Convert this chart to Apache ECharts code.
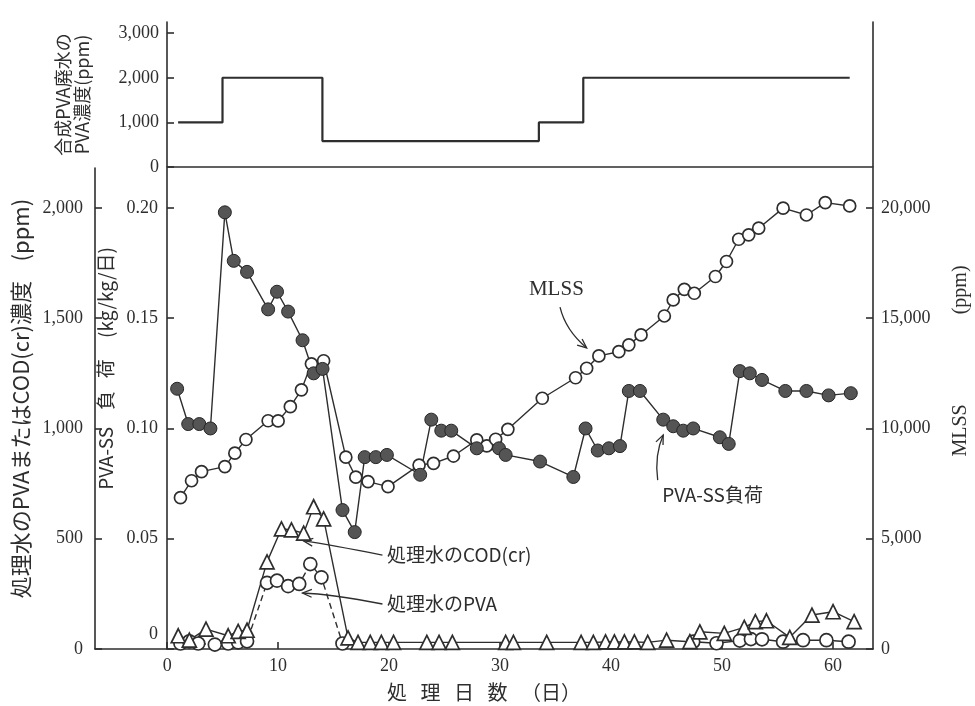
<!DOCTYPE html>
<html lang="ja">
<head>
<meta charset="UTF-8">
<title>PVA処理経過</title>
<script type="text/javascript" src="https://cdn.jsdelivr.net/npm/echarts@6.0.0/dist/echarts.min.js"></script>
<style>
  html, body { margin: 0; padding: 0; background: #fff; }
  #main { width: 975px; height: 706px; }
</style>
</head>
<body>
<div id="main"></div>
<script type="text/javascript">
// 上段: 合成PVA廃水のPVA濃度 (ppm), 階段状
var feedDays = [1, 5, 14, 33.5, 37.5, 61.5];
var feedPVA = [1000, 2000, 580, 1000, 2000, 2000];

// PVA-SS負荷 (kg/kg/日)  ●
var loadDays = [0.9, 1.9, 2.9, 3.9, 5.2, 6.0, 7.2, 9.1, 9.9, 10.9, 12.2, 13.2, 14.0, 15.8, 16.9,
  17.8, 18.8, 19.8, 22.8, 23.8, 24.7, 25.6, 27.9, 29.9, 30.5, 33.6, 36.6, 37.7, 38.8, 39.8, 40.8,
  41.6, 42.6, 44.7, 45.6, 46.5, 47.4, 49.8, 50.6, 51.6, 52.5, 53.6, 55.7, 57.6, 59.6, 61.6];
var loadVals = [0.118, 0.102, 0.102, 0.100, 0.198, 0.176, 0.171, 0.154, 0.162, 0.153, 0.140, 0.125, 0.127, 0.063, 0.053,
  0.087, 0.087, 0.088, 0.079, 0.104, 0.099, 0.099, 0.091, 0.091, 0.088, 0.085, 0.078, 0.100, 0.090, 0.091, 0.092,
  0.117, 0.117, 0.104, 0.101, 0.099, 0.100, 0.096, 0.093, 0.126, 0.125, 0.122, 0.117, 0.117, 0.115, 0.116];

// MLSS (ppm)  ○
var mlssDays = [1.2, 2.2, 3.1, 5.2, 6.1, 7.1, 9.1, 10.0, 11.1, 12.1, 13.0, 14.1, 16.1, 17.0, 18.1, 19.9,
  22.7, 24.0, 25.8, 27.9, 28.8, 29.6, 30.7, 33.8, 36.8, 37.8, 38.9, 40.7, 41.6, 42.7, 44.8, 45.6,
  46.6, 47.5, 49.4, 50.4, 51.5, 52.4, 53.3, 55.5, 57.6, 59.3, 61.5];
var mlssVals = [6860, 7630, 8040, 8270, 8880, 9500, 10350, 10340, 10990, 11750, 12930, 13070, 8700, 7790, 7590, 7360,
  8340, 8420, 8750, 9480, 9210, 9510, 9960, 11370, 12300, 12730, 13290, 13480, 13790, 14240, 15100, 15830,
  16310, 16130, 16890, 17570, 18580, 18780, 19080, 19990, 19680, 20240, 20090];

// 処理水のCOD(cr) (ppm)  △
var codDays = [1.0, 2.0, 3.5, 5.5, 6.4, 7.2, 9.0, 10.3, 11.2, 12.3, 13.2, 14.1, 16.3, 17.2, 18.3, 19.3, 20.4,
  23.4, 24.5, 25.7, 30.5, 31.2, 34.2, 37.3, 38.4, 39.5, 40.3, 41.2, 42.1, 43.3, 45.0, 47.1, 48.0,
  50.2, 52.0, 53.0, 54.0, 56.1, 58.1, 60.0, 61.9];
var codVals = [60, 40, 90, 60, 80, 85, 395, 545, 540, 525, 645, 590, 50, 30, 30, 30, 30,
  30, 30, 30, 30, 30, 30, 30, 30, 32, 32, 32, 32, 30, 40, 33, 78,
  71, 98, 124, 128, 53, 154, 169, 124];

// 処理水のPVA (ppm)  ○  前半は破線, 後半は実線
var pvaDays1 = [1.2, 2.0, 2.8, 4.3, 5.5, 6.4, 7.2, 9.0, 9.9, 10.9, 11.9, 12.9, 13.9, 15.8];
var pvaVals1 = [25, 35, 25, 20, 25, 30, 35, 300, 310, 285, 295, 385, 325, 25];
var pvaDays2 = [47.4, 49.5, 51.6, 52.6, 53.6, 55.5, 57.3, 59.4, 61.4];
var pvaVals2 = [33, 26, 38, 45, 44, 33, 40, 40, 33];

// 目盛
var xTicks = [0, 10, 20, 30, 40, 50, 60];
var feedTicks = [0, 1000, 2000, 3000];
var ppmTicks = [0, 500, 1000, 1500, 2000];
var loadTicks = [0, 0.05, 0.10, 0.15, 0.20];
var mlssTicks = [0, 5000, 10000, 15000, 20000];

var FONT = "'Liberation Serif', 'Noto Sans CJK JP', serif";
var JFONT = "'Noto Sans CJK JP', 'Liberation Serif', serif";
var INK = '#2e2e2e';

function pairs(xs, ys) {
  return xs.map(function (x, i) { return [x, ys[i]]; });
}
function comma(v) {
  return String(v).replace(/\B(?=(\d{3})+(?!\d))/g, ',');
}

var axisLineStyle = { color: INK, width: 1.6 };

var myChart = echarts.init(document.getElementById('main'));

myChart.setOption({
  animation: false,
  backgroundColor: '#fff',
  grid: [
    { left: 167, right: 102, top: 22, bottom: 539, outerBoundsMode: 'none' },
    { left: 95, right: 102, top: 168, bottom: 57, outerBoundsMode: 'none' }
  ],
  xAxis: [
    {
      gridIndex: 0, type: 'value', min: 0, max: 63.6,
      axisLine: { show: true, onZero: false, lineStyle: axisLineStyle },
      axisTick: { show: false }, axisLabel: { show: false }, splitLine: { show: false }
    },
    {
      gridIndex: 1, type: 'value', min: -6.5, max: 63.6,
      name: '処   理   日   数   （日）', nameLocation: 'middle', nameGap: 33,
      nameTextStyle: { fontFamily: JFONT, fontSize: 20, color: INK },
      axisLine: { show: true, onZero: false, lineStyle: axisLineStyle },
      axisTick: { show: true, inside: true, length: 7, customValues: xTicks, lineStyle: axisLineStyle },
      axisLabel: { customValues: xTicks, margin: 8, fontFamily: FONT, fontSize: 18, color: INK },
      splitLine: { show: false }
    }
  ],
  yAxis: [
    { // 上段 左
      gridIndex: 0, type: 'value', min: 0, max: 3250, position: 'left',
      name: '合成PVA廃水の\nPVA濃度(ppm)', nameLocation: 'middle', nameRotate: 90, nameGap: 75,
      nameTextStyle: { fontFamily: JFONT, fontSize: 18, color: INK, lineHeight: 19 },
      axisLine: { show: true, onZero: false, lineStyle: axisLineStyle },
      axisTick: { show: true, inside: true, length: 7, customValues: feedTicks, lineStyle: axisLineStyle },
      axisLabel: { customValues: feedTicks, formatter: comma, margin: 8, fontFamily: FONT, fontSize: 18, color: INK },
      splitLine: { show: false }
    },
    { // 上段 右 (線のみ)
      gridIndex: 0, type: 'value', min: 0, max: 3250, position: 'right',
      axisLine: { show: true, onZero: false, lineStyle: axisLineStyle },
      axisTick: { show: false }, axisLabel: { show: false }, splitLine: { show: false }
    },
    { // 下段 外側左 ppm
      gridIndex: 1, type: 'value', min: 0, max: 2181, position: 'left',
      name: '処理水のPVAまたはCOD(cr)濃度    (ppm)', nameLocation: 'middle', nameRotate: 90, nameGap: 62,
      nameTextStyle: { fontFamily: JFONT, fontSize: 22, color: INK, padding: [0, 0, 0, 20] },
      axisLine: { show: true, onZero: false, lineStyle: axisLineStyle },
      axisTick: { show: true, inside: true, length: 7, customValues: ppmTicks, lineStyle: axisLineStyle },
      axisLabel: { customValues: ppmTicks, formatter: comma, margin: 12, fontFamily: FONT, fontSize: 18, color: INK },
      splitLine: { show: false }
    },
    { // 下段 内側左 kg/kg/日 (x=0 の位置)
      gridIndex: 1, type: 'value', min: 0, max: 0.2181, position: 'left', offset: -72,
      name: 'PVA-SS    負   荷     (kg/kg/日)', nameLocation: 'middle', nameRotate: 90, nameGap: 52,
      nameTextStyle: { fontFamily: JFONT, fontSize: 19, color: INK, padding: [0, 0, 0, 80] },
      axisLine: { show: true, onZero: false, lineStyle: axisLineStyle },
      axisTick: { show: true, inside: true, length: 7, customValues: loadTicks, lineStyle: axisLineStyle },
      axisLabel: {
        customValues: loadTicks, margin: 9,
        formatter: function (v) { return v === 0 ? '{z|0}' : v.toFixed(2); },
        fontFamily: FONT, fontSize: 18, color: INK,
        rich: { z: { fontFamily: FONT, fontSize: 18, color: INK, padding: [0, 0, 30, 0] } }
      },
      splitLine: { show: false }
    },
    { // 下段 右 MLSS
      gridIndex: 1, type: 'value', min: 0, max: 21810, position: 'right',
      name: 'MLSS                  (ppm)', nameLocation: 'middle', nameRotate: 90, nameGap: 78,
      nameTextStyle: { fontFamily: FONT, fontSize: 20, color: INK, padding: [0, 0, 0, 95] },
      axisLine: { show: true, onZero: false, lineStyle: axisLineStyle },
      axisTick: { show: true, inside: true, length: 7, customValues: mlssTicks, lineStyle: axisLineStyle },
      axisLabel: { customValues: mlssTicks, formatter: comma, margin: 8, fontFamily: FONT, fontSize: 18, color: INK },
      splitLine: { show: false }
    }
  ],
  series: [
    {
      name: '合成PVA廃水', type: 'line', xAxisIndex: 0, yAxisIndex: 0, step: 'end',
      data: pairs(feedDays, feedPVA), showSymbol: false,
      lineStyle: { color: INK, width: 2.2 }
    },
    {
      name: '処理水のPVA(前半)', type: 'line', xAxisIndex: 1, yAxisIndex: 2,
      data: pairs(pvaDays1, pvaVals1), symbol: 'circle', symbolSize: 13,
      lineStyle: { color: INK, width: 1.4, type: [6, 4] },
      itemStyle: { color: '#fff', borderColor: INK, borderWidth: 1.7 }
    },
    {
      name: '処理水のPVA(後半)', type: 'line', xAxisIndex: 1, yAxisIndex: 2,
      data: pairs(pvaDays2, pvaVals2), symbol: 'circle', symbolSize: 13,
      lineStyle: { color: INK, width: 1.4 },
      itemStyle: { color: '#fff', borderColor: INK, borderWidth: 1.7 }
    },
    {
      name: '処理水のCOD(cr)', type: 'line', xAxisIndex: 1, yAxisIndex: 2,
      data: pairs(codDays, codVals), symbol: 'triangle', symbolSize: 14,
      lineStyle: { color: INK, width: 1.4 },
      itemStyle: { color: '#fff', borderColor: INK, borderWidth: 1.7 }
    },
    {
      name: 'MLSS', type: 'line', xAxisIndex: 1, yAxisIndex: 4,
      data: pairs(mlssDays, mlssVals), symbol: 'circle', symbolSize: 12,
      lineStyle: { color: INK, width: 1.4 },
      itemStyle: { color: '#fff', borderColor: INK, borderWidth: 1.7 }
    },
    {
      name: 'PVA-SS負荷', type: 'line', xAxisIndex: 1, yAxisIndex: 3,
      data: pairs(loadDays, loadVals), symbol: 'circle', symbolSize: 13,
      lineStyle: { color: INK, width: 1.4 },
      itemStyle: { color: '#555', borderColor: '#262626', borderWidth: 1 }
    }
  ]
});

// 注記 (位置は下段の 日数 / ppm 座標)
var notes = [
  { text: 'MLSS', at: [32.6, 1630], size: 21, font: FONT,
    arrow: [[35.4, 1550], [35.9, 1445], [37.8, 1365]] },
  { text: 'PVA-SS負荷', at: [44.6, 698], size: 19, font: JFONT,
    arrow: [[44.2, 766], [43.9, 880], [44.7, 970]] },
  { text: '処理水のCOD(cr)', at: [19.8, 426], size: 19, font: JFONT,
    arrow: [[19.4, 426], [14.7, 472], [12.3, 490]] },
  { text: '処理水のPVA', at: [19.8, 204], size: 19, font: JFONT,
    arrow: [[19.4, 204], [14.7, 249], [12.2, 254]] }
];

function px(p) {
  return myChart.convertToPixel({ xAxisIndex: 1, yAxisIndex: 2 }, p);
}

var graphics = [];
notes.forEach(function (n) {
  var t = px(n.at);
  var a = px(n.arrow[0]), c = px(n.arrow[1]), b = px(n.arrow[2]);
  graphics.push({
    type: 'text', x: t[0], y: t[1],
    style: { text: n.text, fontFamily: n.font, fontSize: n.size, fill: INK, textAlign: 'left', textVerticalAlign: 'middle' }
  });
  graphics.push({
    type: 'bezierCurve',
    shape: { x1: a[0], y1: a[1], cpx1: c[0], cpy1: c[1], x2: b[0], y2: b[1] },
    style: { stroke: INK, lineWidth: 1.3, fill: null }
  });
  var ang = Math.atan2(b[1] - c[1], b[0] - c[0]);
  var L = 10, w = 0.4;
  graphics.push({
    type: 'polyline',
    shape: { points: [
      [b[0] - L * Math.cos(ang - w), b[1] - L * Math.sin(ang - w)],
      [b[0], b[1]],
      [b[0] - L * Math.cos(ang + w), b[1] - L * Math.sin(ang + w)]
    ] },
    style: { stroke: INK, lineWidth: 1.3, fill: null }
  });
});
myChart.setOption({ graphic: graphics });
</script>
</body>
</html>
